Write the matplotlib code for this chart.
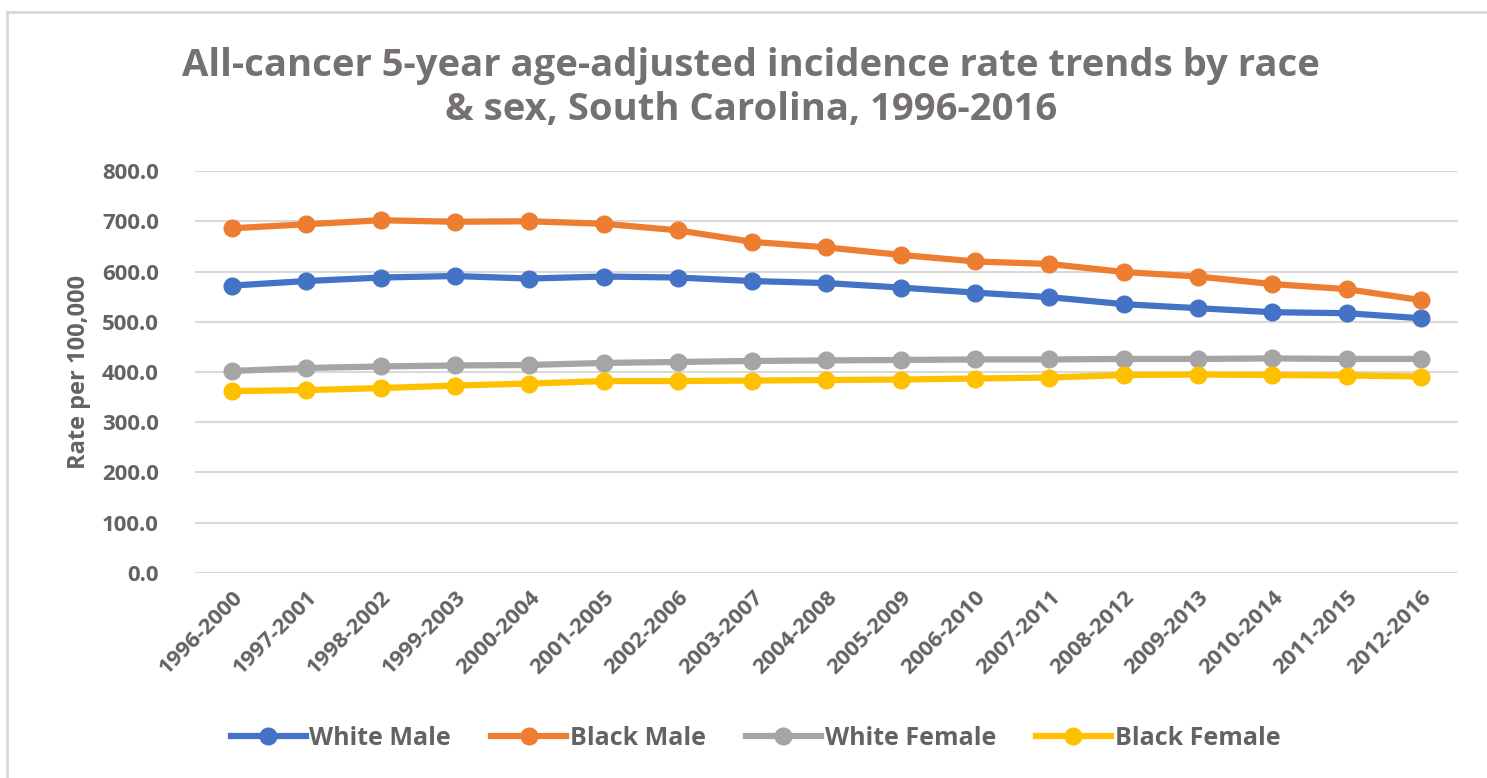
import matplotlib.pyplot as plt
from matplotlib.lines import Line2D

periods = [
    "1996-2000", "1997-2001", "1998-2002", "1999-2003", "2000-2004", "2001-2005",
    "2002-2006", "2003-2007", "2004-2008", "2005-2009", "2006-2010", "2007-2011",
    "2008-2012", "2009-2013", "2010-2014", "2011-2015", "2012-2016",
]
white_male = [572, 581, 588, 591, 586, 590, 588, 581, 577, 568, 558, 549, 535, 527, 519, 517, 507]
black_male = [686, 694, 702, 699, 700, 695, 682, 659, 648, 633, 620, 615, 599, 590, 575, 565, 543]
white_female = [402, 408, 411, 413, 414, 418, 420, 422, 423, 424, 425, 425, 426, 426, 427, 426, 426]
black_female = [362, 364, 368, 373, 377, 382, 382, 383, 384, 385, 387, 389, 394, 395, 394, 393, 391]

series = [
    ("White Male", white_male, "#4472c4"),
    ("Black Male", black_male, "#ed7d31"),
    ("White Female", white_female, "#a5a5a5"),
    ("Black Female", black_female, "#ffc000"),
]

TEXT = "#636363"
plt.rcParams["font.family"] = ["Open Sans", "DejaVu Sans"]

fig = plt.figure(figsize=(14.87, 7.78), dpi=100)
ax = fig.add_axes([0.1311, 0.2635, 0.8494, 0.5167])

x = range(len(periods))
for name, vals, color in series:
    ax.plot(x, vals, color=color, linewidth=4.5, marker="o", markersize=12,
            label=name, zorder=3)

ax.set_xlim(-0.5, len(periods) - 0.5)
ax.set_ylim(0, 800)
ax.set_yticks(range(0, 801, 100))
ax.set_yticklabels([f"{v:.1f}" for v in range(0, 801, 100)])
ax.set_xticks(list(x))
ax.set_xticklabels(periods, rotation=45, ha="right", rotation_mode="anchor")
ax.tick_params(axis="both", length=0, labelsize=16, labelcolor=TEXT)
ax.tick_params(axis="x", pad=10)
ax.tick_params(axis="y", pad=26)
for lbl in ax.get_xticklabels() + ax.get_yticklabels():
    lbl.set_fontweight("bold")
ax.grid(True, axis="y", color="#d9d9d9", linewidth=1.5)
ax.set_axisbelow(True)
for s in ax.spines.values():
    s.set_visible(False)

ax.set_ylabel("Rate per 100,000", fontsize=17, fontweight="bold", color=TEXT, labelpad=8)

fig.text(0.505, 0.887, "All-cancer 5-year age-adjusted incidence rate trends by race\n& sex, South Carolina, 1996-2016",
         ha="center", va="center", fontsize=27.5, fontweight="bold", color="#767171",
         linespacing=1.22)

handles = [Line2D([0], [0], color=c, linewidth=4.5, marker="o", markersize=12) for _, _, c in series]
leg = fig.legend(handles, [n for n, _, _ in series], loc="center", bbox_to_anchor=(0.508, 0.051),
                 ncol=4, frameon=False, fontsize=18, handlelength=3.0, handletextpad=0.15,
                 columnspacing=1.6)
for t in leg.get_texts():
    t.set_color(TEXT)
    t.set_fontweight("bold")

# light frame of the chart area (top and left edges visible)
fig.add_artist(Line2D([7 / 1487, 1.0], [1 - 12 / 778] * 2, color="#d9d9d9", linewidth=2,
                      transform=fig.transFigure))
fig.add_artist(Line2D([7 / 1487] * 2, [0.0, 1 - 12 / 778], color="#d9d9d9", linewidth=2,
                      transform=fig.transFigure))

fig.savefig("out.png", dpi=100)
